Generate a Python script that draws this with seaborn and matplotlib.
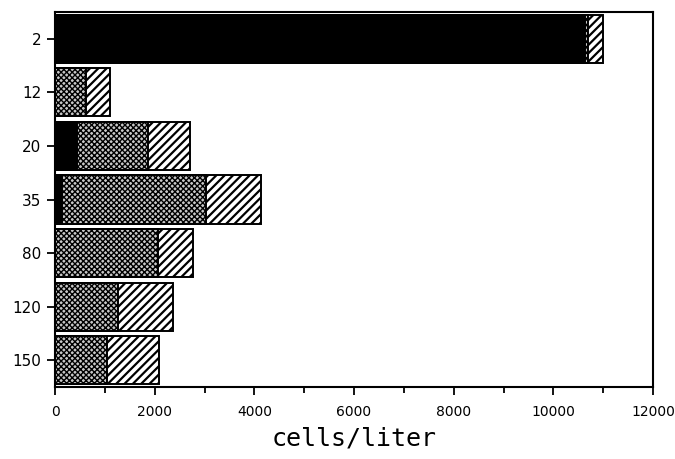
import matplotlib
matplotlib.use("Agg")
import matplotlib.pyplot as plt
import seaborn as sns
import pandas as pd
import numpy as np

# Depth classes (m) and cell concentrations (cells/liter) per component
depths = ["2", "12", "20", "35", "80", "120", "150"]
solid = [10640, 0, 450, 150, 0, 0, 0]
dotted = [60, 630, 1420, 2890, 2075, 1270, 1040]
striped = [300, 470, 840, 1090, 700, 1105, 1050]

sns.set_theme(style="white")
plt.rcParams["hatch.linewidth"] = 1.6

df = pd.DataFrame({"depth": depths, "solid": solid, "dotted": dotted, "striped": striped})
df["cum_solid"] = df["solid"]
df["cum_dotted"] = df["solid"] + df["dotted"]
df["cum_total"] = df["cum_dotted"] + df["striped"]

fig = plt.figure(figsize=(6.75, 4.59), dpi=100)
ax = fig.add_axes([55 / 675, 1 - 387 / 459, 598 / 675, 375 / 459])

# (column, face colour, hatch, hatch line width)
layers = [
    ("cum_total", "white", "////", 1.6),
    ("cum_dotted", "#c8c8c8", "xxxxxx", 1.0),
    ("cum_solid", "black", None, None),
]
for col, face, hatch, hlw in layers:
    before = len(ax.patches)
    sns.barplot(data=df, x=col, y="depth", order=depths, orient="h",
                color=face, width=0.9, ax=ax, saturation=1,
                edgecolor="black", linewidth=1.4)
    for p in ax.patches[before:]:
        p.set_facecolor(face)
        p.set_edgecolor("black")
        if hatch:
            p.set_hatch(hatch)
            if hasattr(p, "set_hatch_linewidth"):
                p.set_hatch_linewidth(hlw)
        if p.get_width() <= 0:
            p.set_visible(False)

ax.set_xlim(0, 12000)
ax.set_ylim(6.5, -0.5)
ax.set_xticks(np.arange(0, 12001, 2000))
ax.set_xticks(np.arange(1000, 12000, 2000), minor=True)
ax.tick_params(axis="x", which="major", direction="out", length=6, width=1.3,
               labelsize=10, bottom=True, pad=7, colors="black")
ax.tick_params(axis="x", which="minor", direction="out", length=4, width=1.3,
               bottom=True, colors="black")
ax.tick_params(axis="y", direction="out", length=6, width=1.3, labelsize=11,
               left=True, pad=4, colors="black")
for s in ax.spines.values():
    s.set_visible(True)
    s.set_color("black")
    s.set_linewidth(1.5)

ax.set_ylabel("")
ax.set_xlabel("cells/liter", fontsize=18, family="DejaVu Sans Mono",
              labelpad=5, color="black")

fig.savefig("out.png", dpi=100, facecolor="white")
